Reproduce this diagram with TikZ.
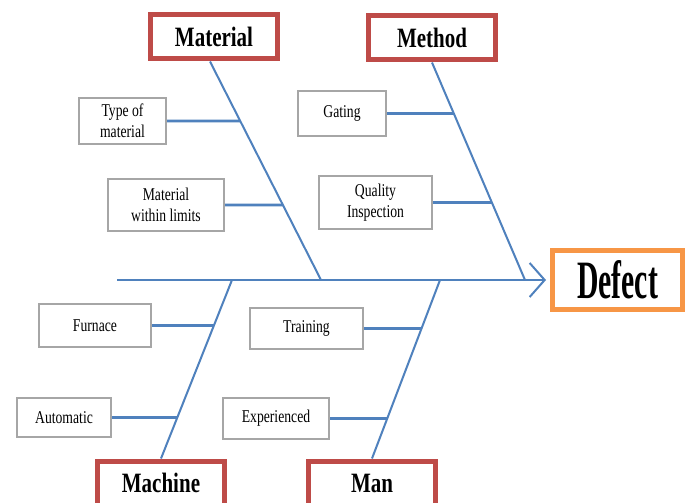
\documentclass[tikz,border=0pt]{standalone}
\usepackage{fontspec}
\setmainfont{Liberation Serif}
\newfontfamily\headfont[FakeStretch=0.75]{Liberation Serif}
\newfontfamily\deffont[FakeStretch=0.55]{Liberation Serif}
\newfontfamily\subfont[FakeStretch=0.76]{Liberation Serif}
\usetikzlibrary{arrows.meta}
\definecolor{bonecol}{HTML}{4F81BD}
\definecolor{hred}{HTML}{BE4B48}
\definecolor{horange}{HTML}{F79646}
\definecolor{subgray}{HTML}{A6A6A6}
\tikzset{
  headbox/.style={draw=hred, line width=5pt, fill=white, inner sep=0pt,
    minimum width=127pt, minimum height=44pt,
    font=\headfont\bfseries\fontsize{28}{30}\selectfont},
  subbox/.style={draw=subgray, line width=2pt, fill=white, inner sep=0pt, align=center,
    font=\subfont\fontsize{18}{21}\selectfont},
  bone/.style={draw=bonecol, line width=2pt},
  twig/.style={draw=bonecol, line width=2.6pt},
}
\begin{document}
\begin{tikzpicture}[x=1pt,y=-1pt]
\fill[white] (0,0) rectangle (686,503);
\useasboundingbox (0,0) rectangle (686,503);

% head boxes
\node[headbox] (mat) at (214,37) {Material};
\node[headbox] (meth) at (432,38) {Method};
\node[headbox] (mach) at (161,483) {Machine};
\node[headbox] (man) at (372,483) {Man};
\node[draw=horange, line width=5pt, fill=white, inner sep=0pt,
      minimum width=130pt, minimum height=59pt,
      font=\deffont\bfseries\fontsize{54}{56}\selectfont] (def) at (617.5,280) {Defect};

% sub boxes
\node[subbox, minimum width=87pt, minimum height=46pt] (tm) at (122.5,121) {Type of\\material};
\node[subbox, minimum width=116pt, minimum height=52pt] (mwl) at (166,205) {Material\\within limits};
\node[subbox, minimum width=88pt, minimum height=45pt] (gat) at (342,113.5) {Gating};
\node[subbox, minimum width=113pt, minimum height=53pt] (qi) at (375.5,202.5) {Quality\\Inspection};
\node[subbox, minimum width=112pt, minimum height=43pt] (fur) at (95,325.5) {Furnace};
\node[subbox, minimum width=94pt, minimum height=39pt] (aut) at (64,417.5) {Automatic};
\node[subbox, minimum width=113pt, minimum height=41pt] (tra) at (306.5,328.5) {Training};
\node[subbox, minimum width=106pt, minimum height=41pt] (exp) at (276,418.5) {Experienced};

% spine
\coordinate (tail) at (117,280);
\draw[bone, -{Straight Barb[length=15pt,width=34pt,line width=2pt]}, shorten >=4pt] (tail) -- (def.west);

% bones
\coordinate (matj) at (321,280);
\coordinate (methj) at (525,280);
\coordinate (machj) at (232,280);
\coordinate (manj) at (440,280);
\coordinate (mattop) at ([xshift=-4pt]mat.south);
\draw[bone] (mattop) -- (matj);
\draw[bone] (meth.south) -- (methj);
\draw[bone] (mach.north) -- (machj);
\draw[bone] (man.north) -- (manj);

% twigs
\draw[twig] (tm.east) -- (intersection cs: first line={(mattop)--(matj)}, second line={(tm.east)--([xshift=10pt]tm.east)});
\draw[twig] (mwl.east) -- (intersection cs: first line={(mattop)--(matj)}, second line={(mwl.east)--([xshift=10pt]mwl.east)});
\draw[twig] (gat.east) -- (intersection cs: first line={(meth.south)--(methj)}, second line={(gat.east)--([xshift=10pt]gat.east)});
\draw[twig] (qi.east) -- (intersection cs: first line={(meth.south)--(methj)}, second line={(qi.east)--([xshift=10pt]qi.east)});
\draw[twig] (fur.east) -- (intersection cs: first line={(mach.north)--(machj)}, second line={(fur.east)--([xshift=10pt]fur.east)});
\draw[twig] (aut.east) -- (intersection cs: first line={(mach.north)--(machj)}, second line={(aut.east)--([xshift=10pt]aut.east)});
\draw[twig] (tra.east) -- (intersection cs: first line={(man.north)--(manj)}, second line={(tra.east)--([xshift=10pt]tra.east)});
\draw[twig] (exp.east) -- (intersection cs: first line={(man.north)--(manj)}, second line={(exp.east)--([xshift=10pt]exp.east)});
\end{tikzpicture}
\end{document}
